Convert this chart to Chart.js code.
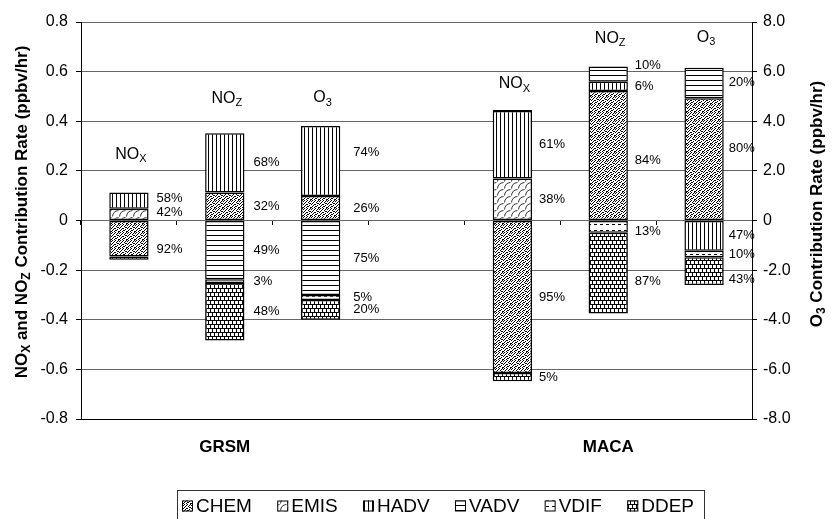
<!DOCTYPE html>
<html>
<head>
<meta charset="utf-8">
<script src="https://cdn.jsdelivr.net/npm/chart.js@4/dist/chart.umd.min.js"></script>
<style>
  html, body { margin: 0; padding: 0; background: #fff; }
  #wrap { width: 833px; height: 519px; position: relative; }
</style>
</head>
<body>
<div id="wrap"><canvas id="c" width="833" height="519"></canvas></div>
<script>
// Process contributions (ppbv/hr). Bar order:
// GRSM NOx, GRSM NOz, GRSM O3, MACA NOx, MACA NOz, MACA O3
// NOx / NOz read on the left axis, O3 on the right axis.
const sites = ['GRSM', 'MACA'];
const species = [['NO', 'X'], ['NO', 'Z'], ['O', '3']];
const processes = ['CHEM', 'EMIS', 'HADV', 'VADV', 'VDIF', 'DDEP'];

const CHEM = [-0.145, 0.113, 0.99, -0.615, 0.522, 4.93];
const EMIS = [0.047, null, null, 0.169, null, null];
const HADV = [0.066, 0.239, 2.82, 0.272, 0.037, -1.22];
const VADV = [null, -0.237, -3.0, 0.004, 0.062, 1.23];
const VDIF = [null, -0.015, -0.2, null, -0.049, -0.26];
const DDEP = [-0.013, -0.232, -0.8, -0.033, -0.326, -1.12];

const leftAxis = { min: -0.8, max: 0.8, step: 0.2 };
const rightAxis = { min: -8, max: 8, step: 2 };

// segments that carry no percentage label: [process, bar]
const unlabeled = [['DDEP', 0], ['VADV', 3]];

const series = { CHEM, EMIS, HADV, VADV, VDIF, DDEP };

// ---- layout helpers -------------------------------------------------
// 7 category slots: three bars per site with an empty slot between sites
const barSlot = [0, 1, 2, 4, 5, 6];
const onRight = [false, false, true, false, false, true];
const slotLabels = ['', sites[0], '', '', '', sites[1], ''];

const FONT = "'Liberation Sans', Arial, Helvetica, sans-serif";
Chart.defaults.font.family = FONT;
Chart.defaults.color = '#000';

// ---- fill patterns ---------------------------------------------------
const mainCtx = document.getElementById('c').getContext('2d');
function tile(w, h, draw) {
  const c = document.createElement('canvas');
  c.width = w; c.height = h;
  const g = c.getContext('2d');
  g.fillStyle = '#fff';
  g.fillRect(0, 0, w, h);
  g.fillStyle = '#000';
  g.strokeStyle = '#000';
  draw(g);
  return mainCtx.createPattern(c, 'repeat');
}
const stipple = [
  '10010010',
  '00100101',
  '01001000',
  '10000110',
  '00110001',
  '01000100',
  '10011000',
  '00100011'
];
const patterns = {
  CHEM: tile(8, 8, g => {
    stipple.forEach((row, y) => [...row].forEach((b, x) => { if (b === '1') g.fillRect(x, y, 1, 1); }));
  }),
  EMIS: tile(7, 7, g => {
    g.strokeStyle = '#333';
    g.lineWidth = 1;
    g.beginPath();
    g.moveTo(0.5, 6.5);
    g.quadraticCurveTo(1, 1, 6.5, 0.5);
    g.stroke();
  }),
  HADV: tile(4, 4, g => { g.fillRect(0, 0, 1, 4); }),
  VADV: tile(4, 5, g => { g.fillRect(0, 0, 4, 1); }),
  VDIF: tile(6, 6, g => { g.fillRect(0, 2, 3, 1); }),
  DDEP: tile(8, 8, g => {
    g.fillRect(0, 0, 8, 1);
    g.fillRect(0, 4, 8, 1);
    g.fillRect(0, 0, 1, 4);
    g.fillRect(4, 0, 1, 4);
    g.fillRect(2, 4, 1, 4);
    g.fillRect(6, 4, 1, 4);
  })
};

// ---- datasets ---------------------------------------------------------
const datasets = [];
processes.forEach(p => {
  ['y', 'y2'].forEach(axis => {
    const data = new Array(slotLabels.length).fill(null);
    series[p].forEach((v, i) => {
      if ((axis === 'y2') === onRight[i]) data[barSlot[i]] = v;
    });
    datasets.push({
      label: p,
      process: p,
      data,
      xAxisID: 'x',
      yAxisID: axis,
      stack: 'all',
      backgroundColor: patterns[p],
      borderColor: '#000',
      borderWidth: 1.5,
      borderSkipped: false,
      barPercentage: 0.41,
      categoryPercentage: 1
    });
  });
});

// share (%) of a segment within the same-signed part of its bar
function shareOf(p, i) {
  const v = series[p][i];
  let tot = 0;
  processes.forEach(q => {
    const w = series[q][i];
    if (w != null && Math.sign(w) === Math.sign(v)) tot += Math.abs(w);
  });
  return Math.round(Math.abs(v) / tot * 100);
}

// label placement tweaks (pixels)
const pctGap = [8, 9, 13, 7, 7, 5];
const pctNudge = {
  'HADV:0': -2, 'EMIS:0': -2, 'CHEM:0': 11,
  'HADV:2': -9,
  'VADV:4': -9, 'CHEM:4': 5, 'VDIF:4': 5, 'DDEP:4': 8,
  'CHEM:5': -11, 'DDEP:5': 8
};
const speciesLift = [38, 35, 28, 26, 28, 30];

function drawSubText(ctx, parts, x, y, size, weight, align) {
  // parts: [text, isSubscript]
  const big = `${weight} ${size}px ${FONT}`;
  const small = `${weight} ${Math.round(size * 0.68)}px ${FONT}`;
  let total = 0;
  parts.forEach(([t, sub]) => { ctx.font = sub ? small : big; total += ctx.measureText(t).width; });
  let cx = align === 'center' ? x - total / 2 : x;
  ctx.textBaseline = 'middle';
  ctx.textAlign = 'left';
  parts.forEach(([t, sub]) => {
    ctx.font = sub ? small : big;
    ctx.fillText(t, cx, sub ? y + size * 0.3 : y);
    cx += ctx.measureText(t).width;
  });
}

const annotations = {
  id: 'annotations',
  afterDatasetsDraw(chart) {
    const ctx = chart.ctx;
    ctx.save();
    ctx.fillStyle = '#000';
    // percentage labels beside each segment
    chart.data.datasets.forEach((ds, di) => {
      const meta = chart.getDatasetMeta(di);
      barSlot.forEach((slot, i) => {
        const v = ds.data[slot];
        if (v == null) return;
        if (unlabeled.some(([p, b]) => p === ds.process && b === i)) return;
        const el = meta.data[slot];
        const y = (el.y + el.base) / 2 + (pctNudge[ds.process + ':' + i] || 0);
        const x = el.x + el.width / 2 + pctGap[i];
        ctx.font = `13px ${FONT}`;
        ctx.textAlign = 'left';
        ctx.textBaseline = 'middle';
        ctx.fillText(shareOf(ds.process, i) + '%', x, y);
      });
    });
    // species names above each stack
    const xs = chart.scales.x;
    barSlot.forEach((slot, i) => {
      const ys = chart.scales[onRight[i] ? 'y2' : 'y'];
      let top = 0;
      processes.forEach(p => { const v = series[p][i]; if (v > 0) top += v; });
      const px = xs.getPixelForValue(slot);
      const py = ys.getPixelForValue(top) - speciesLift[i];
      const sp = species[i % 3];
      drawSubText(ctx, [[sp[0], false], [sp[1], true]], px + 2, py, 16, 'normal', 'center');
    });
    ctx.restore();
  },
  afterDraw(chart) {
    const ctx = chart.ctx;
    ctx.save();
    ctx.fillStyle = '#000';
    // axis titles with subscripts
    ctx.save();
    ctx.translate(22, 212);
    ctx.rotate(-Math.PI / 2);
    drawSubText(ctx, [['NO', false], ['X', true], [' and NO', false], ['Z', true], [' Contribution Rate (ppbv/hr)', false]], 0, 0, 17, 'bold', 'center');
    ctx.restore();
    ctx.save();
    ctx.translate(817, 204);
    ctx.rotate(-Math.PI / 2);
    drawSubText(ctx, [['O', false], ['3', true], [' Contribution Rate (ppbv/hr)', false]], 0, 0, 17, 'bold', 'center');
    ctx.restore();

    // legend
    const lx0 = 182, lx1 = 694, ly = 506, box = 11;
    ctx.font = `19px ${FONT}`;
    const widths = processes.map(p => ctx.measureText(p).width);
    const used = widths.reduce((a, w) => a + w + box + 3, 0);
    const gap = (lx1 - lx0 - used) / (processes.length - 1);
    ctx.strokeStyle = '#333';
    ctx.lineWidth = 1;
    ctx.strokeRect(177.5, 490.5, 527, 40);
    let x = lx0;
    processes.forEach((p, k) => {
      ctx.fillStyle = patterns[p];
      ctx.fillRect(x, ly - box / 2, box, box);
      ctx.strokeStyle = '#000';
      ctx.strokeRect(x + 0.5, ly - box / 2 + 0.5, box - 1, box - 1);
      ctx.fillStyle = '#000';
      ctx.textAlign = 'left';
      ctx.textBaseline = 'middle';
      ctx.fillText(p, x + box + 3, ly + 1);
      x += box + 3 + widths[k] + gap;
    });
    ctx.restore();
  }
};

const fmtTick = v => (Math.abs(v) < 1e-9 ? '0' : Number(v).toFixed(1));

new Chart(document.getElementById('c'), {
  type: 'bar',
  data: { labels: slotLabels.map((s, i) => 'slot' + i), datasets },
  options: {
    responsive: false,
    animation: false,
    layout: { padding: { top: 22, left: 0, right: 0, bottom: 0 } },
    plugins: { legend: { display: false }, tooltip: { enabled: false } },
    scales: {
      x: {
        type: 'category',
        position: 'bottom',
        stacked: true,
        offset: true,
        grid: { display: false, drawTicks: false },
        border: { display: true, color: '#000', width: 1 },
        ticks: {
          autoSkip: false, maxRotation: 0, padding: 18,
          font: { size: 17, weight: 'bold' }, color: '#000',
          callback: (v, i) => slotLabels[i]
        },
        afterFit: s => { s.height = 100; }
      },
      xz: {
        type: 'category',
        position: { y: 0 },
        offset: true,
        grid: { display: true, drawOnChartArea: false, drawTicks: true, tickLength: 4, color: '#000', offset: true },
        border: { display: true, color: '#666', width: 1 },
        ticks: { display: false }
      },
      y: {
        position: 'left',
        stacked: true,
        min: leftAxis.min, max: leftAxis.max,
        ticks: { stepSize: leftAxis.step, padding: 8, font: { size: 16 }, color: '#000', callback: fmtTick },
        grid: { color: '#666', lineWidth: 1, tickLength: 5, tickColor: '#000' },
        border: { display: true, color: '#000', width: 1 },
        afterFit: s => { s.width = 81; }
      },
      y2: {
        position: 'right',
        stacked: true,
        min: rightAxis.min, max: rightAxis.max,
        ticks: { stepSize: rightAxis.step, padding: 6, font: { size: 16 }, color: '#000', callback: fmtTick },
        grid: { drawOnChartArea: false, tickLength: 5, tickColor: '#000' },
        border: { display: true, color: '#000', width: 1 },
        afterFit: s => { s.width = 81; }
      }
    }
  },
  plugins: [annotations]
});
</script>
</body>
</html>
